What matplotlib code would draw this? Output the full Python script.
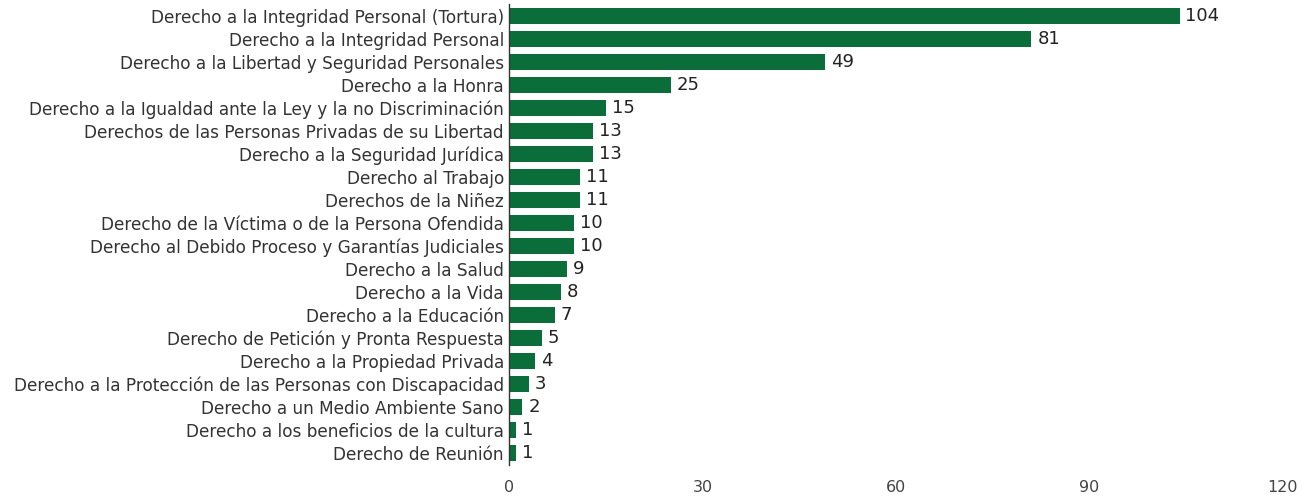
import matplotlib
matplotlib.use("Agg")
import matplotlib.pyplot as plt

categories = [
    "Derecho a la Integridad Personal (Tortura)",
    "Derecho a la Integridad Personal",
    "Derecho a la Libertad y Seguridad Personales",
    "Derecho a la Honra",
    "Derecho a la Igualdad ante la Ley y la no Discriminación",
    "Derechos de las Personas Privadas de su Libertad",
    "Derecho a la Seguridad Jurídica",
    "Derecho al Trabajo",
    "Derechos de la Niñez",
    "Derecho de la Víctima o de la Persona Ofendida",
    "Derecho al Debido Proceso y Garantías Judiciales",
    "Derecho a la Salud",
    "Derecho a la Vida",
    "Derecho a la Educación",
    "Derecho de Petición y Pronta Respuesta",
    "Derecho a la Propiedad Privada",
    "Derecho a la Protección de las Personas con Discapacidad",
    "Derecho a un Medio Ambiente Sano",
    "Derecho a los beneficios de la cultura",
    "Derecho de Reunión",
]
values = [104, 81, 49, 25, 15, 13, 13, 11, 11, 10, 10, 9, 8, 7, 5, 4, 3, 2, 1, 1]
xticks = [0, 30, 60, 90, 120]

plt.rcParams['font.family'] = ['DejaVu Sans']
fig = plt.figure(figsize=(13.13, 4.97), dpi=100)
ax = fig.add_axes([0.388, 0.065, 0.589, 0.926])

y = list(range(len(categories)))
ax.barh(y, values, height=0.68, color="#0b6e3a")
for yi, v in zip(y, values):
    ax.text(v + 0.9, yi, str(v), va="center", ha="left", fontsize=13, color="#222222")

ax.set_yticks(y)
ax.set_yticklabels(categories, fontsize=12.2, color="#333333")
ax.set_ylim(len(categories) - 0.5, -0.5)
ax.set_xlim(0, 120)
ax.set_xticks(xticks)
ax.set_xticklabels([str(t) for t in xticks], fontsize=11.5, color="#444444")
ax.tick_params(axis="both", length=0)
ax.tick_params(axis="x", pad=11)
ax.tick_params(axis="y", pad=4)
for s in ["top", "right", "bottom"]:
    ax.spines[s].set_visible(False)
ax.spines["left"].set_color("#333333")
ax.spines["left"].set_linewidth(1.0)

fig.savefig("out.png", dpi=100)
